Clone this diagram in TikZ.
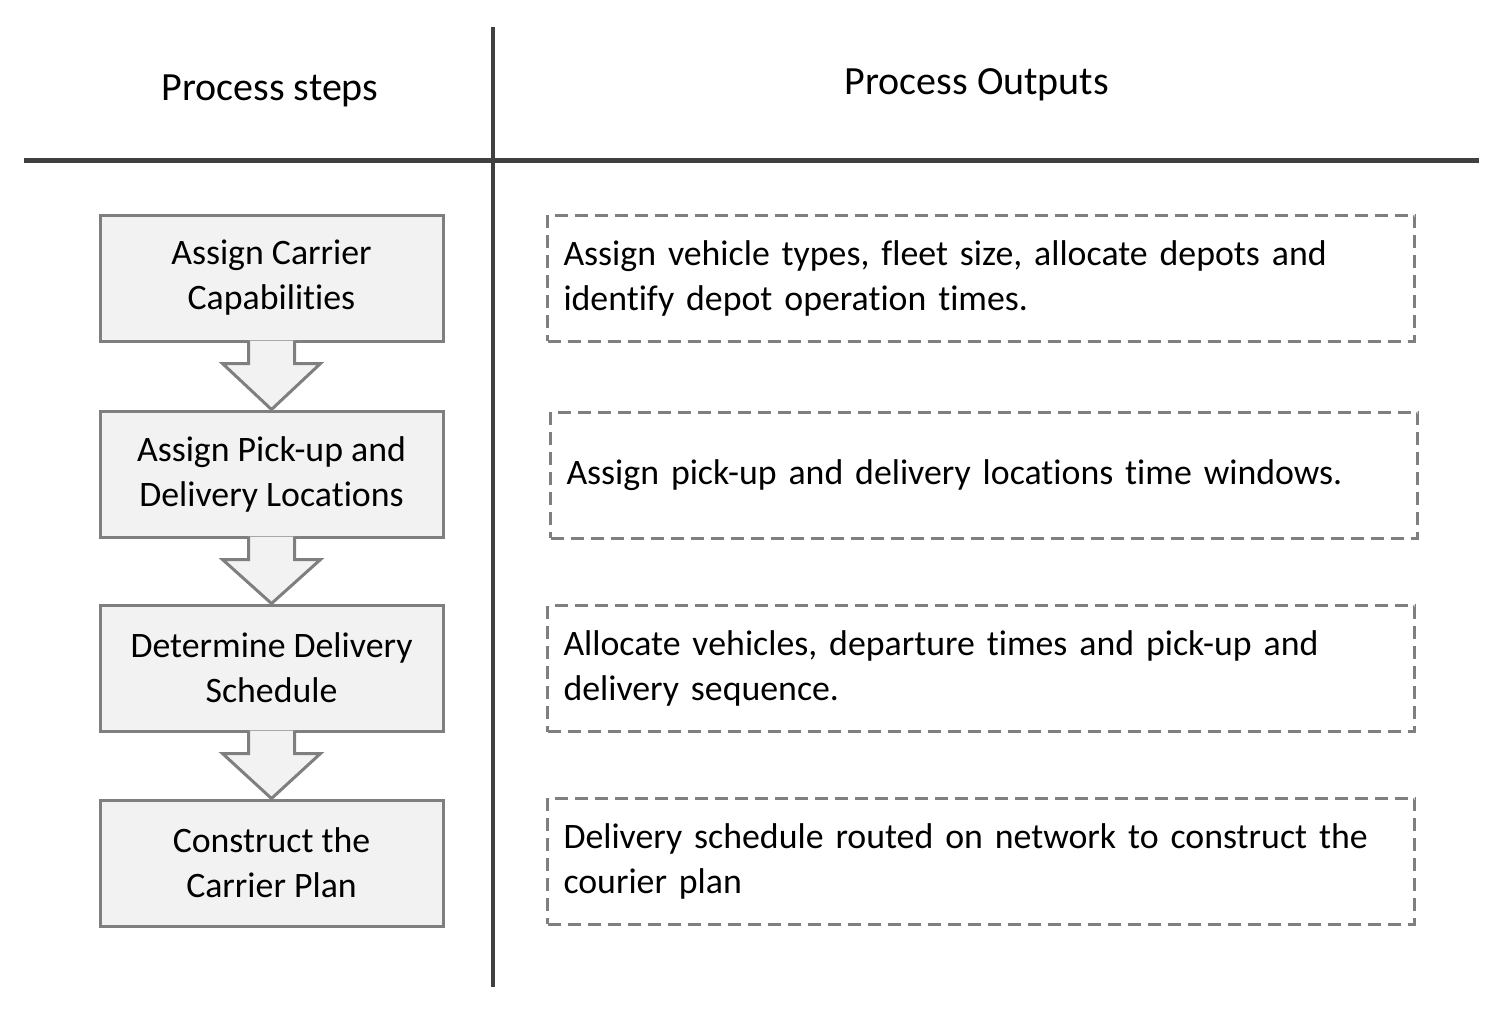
\documentclass[tikz,border=0pt]{standalone}
\usepackage{fontspec}
\setmainfont{Carlito}[Ligatures=NoCommon]
\usepackage{tikz}
\usetikzlibrary{positioning,calc}
\definecolor{boxfill}{HTML}{F2F2F2}
\definecolor{boxline}{HTML}{7F7F7F}
\definecolor{ruleline}{HTML}{404040}
\begin{document}
\begin{tikzpicture}[x=0.5pt,y=-0.5pt,
  stepbox/.style={draw=boxline,fill=boxfill,line width=1.5pt,minimum width=171.5pt,minimum height=63pt,align=center,font=\fontsize{17.9}{22.5}\selectfont},
  outbox/.style={draw=boxline,dash pattern=on 6.5pt off 3.5pt,line width=1.5pt,minimum height=63pt,text width=417.5pt,inner xsep=8pt,align=left,anchor=west,font=\fontsize{17.9}{22.5}\selectfont},
  flowarrow/.style={draw=boxline,fill=boxfill,line width=1.5pt,line join=miter},
  header/.style={font=\fontsize{20}{24}\selectfont}]

\useasboundingbox (0,0) rectangle (1511,1009);

\draw[ruleline,line width=2pt] (493,27) -- (493,987);
\draw[ruleline,line width=2.5pt] (24,160) -- (1479,160);

\node[header] (h1) at (270,91) {Process steps};
\node[header] (h2) at (977,85) {Process Outputs};

\node[stepbox] (s1) at (271.5,278) {Assign Carrier\\Capabilities};
\node[stepbox] (s2) at (271.5,474) {Assign Pick-up and\\Delivery Locations};
\node[stepbox] (s3) at (271.5,668) {Determine Delivery\\Schedule};
\node[stepbox] (s4) at (271.5,863) {Construct the\\Carrier Plan};

\filldraw[flowarrow] ($(s1.south)+(-23,-2)$) -- ($(s1.south)+(-23,21)$) -- ($(s1.south)+(-49,21)$) -- (s2.north) -- ($(s1.south)+(49,21)$) -- ($(s1.south)+(23,21)$) -- ($(s1.south)+(23,-2)$);
\filldraw[flowarrow] ($(s2.south)+(-23,-2)$) -- ($(s2.south)+(-23,21)$) -- ($(s2.south)+(-49,21)$) -- (s3.north) -- ($(s2.south)+(49,21)$) -- ($(s2.south)+(23,21)$) -- ($(s2.south)+(23,-2)$);
\filldraw[flowarrow] ($(s3.south)+(-23,-2)$) -- ($(s3.south)+(-23,21)$) -- ($(s3.south)+(-49,21)$) -- (s4.north) -- ($(s3.south)+(49,21)$) -- ($(s3.south)+(23,21)$) -- ($(s3.south)+(23,-2)$);

\node[outbox] (o1) at (546,278) {Assign vehicle types, fleet size, allocate depots and\\identify depot operation times.};
\node[outbox] (o2) at (549,475) {Assign pick-up and delivery locations time windows.};
\node[outbox] (o3) at (546,668.5) {Allocate vehicles, departure times and pick-up and\\delivery sequence.};
\node[outbox] (o4) at (546,861) {Delivery schedule routed on network to construct the\\courier plan};

\end{tikzpicture}
\end{document}
